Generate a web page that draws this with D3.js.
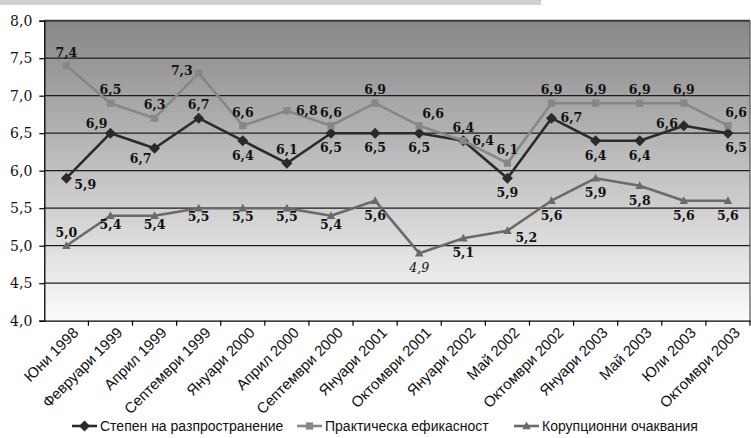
<!DOCTYPE html>
<html>
<head>
<meta charset="utf-8">
<script src="https://cdn.jsdelivr.net/npm/d3@7"></script>
<style>
  body { margin: 0; background: #fff; }
  svg { display: block; }
</style>
</head>
<body>
<div class="viz"></div>
<script>
// categories and series
const categories = ['Юни 1998', 'Февруари 1999', 'Април 1999', 'Септември 1999', 'Януари 2000', 'Април 2000',
  'Септември 2000', 'Януари 2001', 'Октомври 2001', 'Януари 2002', 'Май 2002', 'Октомври 2002',
  'Януари 2003', 'Май 2003', 'Юли 2003', 'Октомври 2003']
const seriesNames = ['Степен на разпространение', 'Практическа ефикасност', 'Корупционни очаквания']

const spreadValues = [5.9, 6.5, 6.3, 6.7, 6.4, 6.1, 6.5, 6.5, 6.5, 6.4, 5.9, 6.7, 6.4, 6.4, 6.6, 6.5]
const efficacyValues = [7.4, 6.9, 6.7, 7.3, 6.6, 6.8, 6.6, 6.9, 6.6, 6.4, 6.1, 6.9, 6.9, 6.9, 6.9, 6.6]
const expectValues = [5.0, 5.4, 5.4, 5.5, 5.5, 5.5, 5.4, 5.6, 4.9, 5.1, 5.2, 5.6, 5.9, 5.8, 5.6, 5.6]

// data labels as printed on the chart (some differ from the plotted point)
const spreadLabels = ['5,9', '6,9', '6,7', '6,7', '6,4', '6,1', '6,5', '6,5', '6,5', '6,4', '5,9', '6,7', '6,4', '6,4', '6,6', '6,5']
const efficacyLabels = ['7,4', '6,5', '6,3', '7,3', '6,6', '6,8', '6,6', '6,9', '6,6', '6,4', '6,1', '6,9', '6,9', '6,9', '6,9', '6,6']
const expectLabels = ['5,0', '5,4', '5,4', '5,5', '5,5', '5,5', '5,4', '5,6', '4,9', '5,1', '5,2', '5,6', '5,9', '5,8', '5,6', '5,6']

const yTicks = [4.0, 4.5, 5.0, 5.5, 6.0, 6.5, 7.0, 7.5, 8.0]

// where each label sits around its point
const spreadPlace = ['br', 'tl', 'bl', 't', 'b', 't', 'b', 'b', 'b', 'r', 'b', 'r', 'b', 'b', 'l', 'rb']
const efficacyPlace = ['t', 't', 't', 'l', 't', 'r', 't', 't', 'tr', 't', 't', 't', 't', 't', 't', 'te']
const expectPlace = ['t', 'bs', 'bs', 'bs', 'bs', 'bs', 'bs', 'b', 'b', 'b', 'br', 'b', 'b', 'b', 'b', 'b']

const places = {
  t: ['middle', 0, -9],
  b: ['middle', 0, 19],
  bs: ['middle', 0, 13],
  tl: ['end', -3, -5],
  tr: ['start', 3, -8],
  te: ['end', 19, -9],
  bl: ['end', -3, 15],
  br: ['start', 8, 11],
  r: ['start', 9, 4],
  l: ['end', -6, 2],
  rb: ['end', 19, 19]
}

const width = 751
const height = 438
const plotLeft = 44.3
const plotRight = 750
const plotTop = 20.7
const plotBottom = 320.7
const legendX = [72, 297, 514]

const svg = d3.select('.viz')
  .append('svg')
    .attr('width', width)
    .attr('height', height)

// light bar at the very top
svg.append('rect')
  .attr('x', 0).attr('y', 0)
  .attr('width', 541).attr('height', 5)
  .attr('fill', '#d0d0d0')

const x = d3.scaleBand().domain(categories).range([plotLeft, plotRight])
const y = d3.scaleLinear().domain([4, 8]).range([plotBottom, plotTop])
const cx = d => x(d) + x.bandwidth() / 2

// gradient background
const grad = svg.append('defs').append('linearGradient')
  .attr('id', 'bg').attr('x1', 0).attr('y1', 0).attr('x2', 0).attr('y2', 1)
grad.append('stop').attr('offset', '0%').attr('stop-color', '#878787')
grad.append('stop').attr('offset', '100%').attr('stop-color', '#fbfbfb')

svg.append('rect')
  .attr('x', plotLeft).attr('y', plotTop)
  .attr('width', plotRight - plotLeft).attr('height', plotBottom - plotTop)
  .attr('fill', 'url(#bg)')

// gridlines
svg.append('g')
  .selectAll('line')
  .data(yTicks.filter(t => t > 4 && t < 8)).enter().append('line')
  .attr('x1', plotLeft).attr('x2', plotRight)
  .attr('y1', d => y(d)).attr('y2', d => y(d))
  .attr('stroke', '#1e1e1e')
  .attr('stroke-width', 1.2)

// frame top and right
svg.append('line')
  .attr('x1', plotLeft).attr('x2', plotRight)
  .attr('y1', plotTop).attr('y2', plotTop)
  .attr('stroke', '#3a3a3a').attr('stroke-width', 2)
svg.append('line')
  .attr('x1', plotRight).attr('x2', plotRight)
  .attr('y1', plotTop).attr('y2', plotBottom)
  .attr('stroke', '#555').attr('stroke-width', 1.2)

// y axis
const yAxis = svg.append('g')
  .attr('transform', `translate(${plotLeft},0)`)
  .call(d3.axisLeft(y).tickValues(yTicks).tickSize(5).tickPadding(7)
    .tickFormat(d => d3.format('.1f')(d).replace('.', ',')))
yAxis.select('.domain').attr('stroke', '#000').attr('stroke-width', 1.3)
yAxis.selectAll('.tick line').attr('stroke', '#000').attr('stroke-width', 1.2)
yAxis.selectAll('text')
  .attr('font-family', 'DejaVu Serif')
  .attr('font-size', 14)
  .attr('fill', '#111')

// x axis
const xAxis = svg.append('g')
  .attr('transform', `translate(0,${plotBottom})`)
  .call(d3.axisBottom(x).tickSize(0).tickSizeOuter(0))
xAxis.select('.domain').attr('stroke', '#000').attr('stroke-width', 1.3)
xAxis.selectAll('text')
  .attr('y', 0).attr('dy', null)
  .attr('text-anchor', 'end')
  .attr('transform', 'translate(13,13) rotate(-45)')
  .attr('font-family', 'Liberation Sans Narrow, Liberation Sans, Arial, sans-serif')
  .attr('font-size', 15)
  .attr('fill', '#111')

// tick marks at band edges
svg.append('g')
  .selectAll('line')
  .data(categories.slice(1).concat([null])).enter().append('line')
  .attr('x1', d => d === null ? plotRight : x(d))
  .attr('x2', d => d === null ? plotRight : x(d))
  .attr('y1', plotBottom).attr('y2', plotBottom + 5)
  .attr('stroke', '#000').attr('stroke-width', 1.2)

// series
const markers = {
  diamond: 'M0,-5.5L5.5,0L0,5.5L-5.5,0Z',
  square: 'M-3.6,-3.6H3.6V3.6H-3.6Z',
  triangle: 'M0,-4.5L4.3,3.2L-4.3,3.2Z'
}
const series = [
  { name: seriesNames[0], values: spreadValues, labels: spreadLabels, place: spreadPlace, color: '#2a2a2a', marker: 'diamond' },
  { name: seriesNames[1], values: efficacyValues, labels: efficacyLabels, place: efficacyPlace, color: '#878787', marker: 'square' },
  { name: seriesNames[2], values: expectValues, labels: expectLabels, place: expectPlace, color: '#6a6a6a', marker: 'triangle' }
]

const line = d3.line()
  .x((d, i) => cx(categories[i]))
  .y(d => y(d))

const groups = svg.selectAll('g.series')
  .data(series).enter().append('g')
  .attr('class', 'series')

groups.append('path')
  .attr('d', d => line(d.values))
  .attr('fill', 'none')
  .attr('stroke', d => d.color)
  .attr('stroke-width', 2.6)
  .attr('stroke-linejoin', 'round')

groups.selectAll('path.mark')
  .data(d => d.values.map((v, i) => ({ v, i, s: d }))).enter().append('path')
  .attr('class', 'mark')
  .attr('d', d => markers[d.s.marker])
  .attr('transform', d => `translate(${cx(categories[d.i])},${y(d.v)})`)
  .attr('fill', d => d.s.color)

// data labels on top of everything
const labelData = []
series.forEach((s, si) => s.values.forEach((v, i) => {
  labelData.push({ v, i, si, text: s.labels[i], place: places[s.place[i]] })
}))
const isItalic = d => d.si === 2 && d.i === 8

svg.append('g')
  .selectAll('text')
  .data(labelData).enter().append('text')
  .text(d => d.text)
  .attr('x', d => cx(categories[d.i]) + d.place[1])
  .attr('y', d => y(d.v) + d.place[2])
  .attr('text-anchor', d => d.place[0])
  .attr('font-family', 'DejaVu Serif')
  .attr('font-size', 12.5)
  .attr('font-weight', d => isItalic(d) ? 'normal' : 'bold')
  .attr('font-style', d => isItalic(d) ? 'italic' : 'normal')
  .attr('fill', '#111')

// legend
const legend = svg.append('g').attr('transform', 'translate(0,426)')
series.forEach((s, i) => {
  const item = legend.append('g').attr('transform', `translate(${legendX[i]},0)`)
  item.append('line')
    .attr('x1', 0).attr('x2', 25).attr('y1', 0).attr('y2', 0)
    .attr('stroke', s.color).attr('stroke-width', 2.6)
  item.append('path')
    .attr('d', markers[s.marker])
    .attr('transform', 'translate(12.5,0)')
    .attr('fill', s.color)
  item.append('text')
    .text(s.name)
    .attr('x', 28).attr('y', 5)
    .attr('font-family', 'Liberation Sans, Arial, sans-serif')
    .attr('font-size', 14)
    .attr('fill', '#111')
})
</script>
</body>
</html>
